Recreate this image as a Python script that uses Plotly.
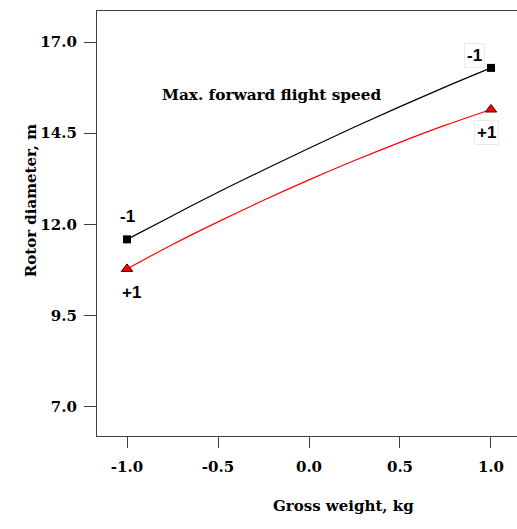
import plotly.graph_objects as go

# Gross weight (coded level) along the response curves
gross_weight = [-1.0, -0.75, -0.5, -0.25, 0.0, 0.25, 0.5, 0.75, 1.0]
# Rotor diameter at max. forward flight speed level -1 and +1
diameter_speed_lo = [11.59, 12.24, 12.88, 13.49, 14.09, 14.67, 15.23, 15.77, 16.29]
diameter_speed_hi = [10.78, 11.45, 12.07, 12.66, 13.22, 13.75, 14.25, 14.72, 15.15]

x_ticks = [-1.0, -0.5, 0.0, 0.5, 1.0]
x_tick_text = ["-1.0", "-0.5", "0.0", "0.5", "1.0"]
y_ticks = [7.0, 9.5, 12.0, 14.5, 17.0]
y_tick_text = ["7.0", "9.5", "12.0", "14.5", "17.0"]

serif = "DejaVu Serif"
sans = "Liberation Sans"
axis_col = "#404040"

fig = go.Figure()

fig.add_trace(go.Scatter(
    x=gross_weight, y=diameter_speed_lo, mode="lines",
    line=dict(color="black", width=1.2, shape="spline"), hoverinfo="skip"))
fig.add_trace(go.Scatter(
    x=gross_weight, y=diameter_speed_hi, mode="lines",
    line=dict(color="red", width=1.2, shape="spline"), hoverinfo="skip"))

# end-point markers
fig.add_trace(go.Scatter(
    x=[gross_weight[0], gross_weight[-1]],
    y=[diameter_speed_lo[0], diameter_speed_lo[-1]],
    mode="markers",
    marker=dict(symbol="square", size=8, color="black")))
fig.add_trace(go.Scatter(
    x=[gross_weight[0], gross_weight[-1]],
    y=[diameter_speed_hi[0], diameter_speed_hi[-1]],
    mode="markers",
    marker=dict(symbol="triangle-up", size=10, color="red",
                line=dict(color="#400000", width=1))))

lab_font = dict(family=sans, size=17, color="black")
fig.add_annotation(x=-1.0, y=12.22, text="<b>-1</b>", showarrow=False, font=lab_font)
fig.add_annotation(x=-0.978, y=10.14, text="<b>+1</b>", showarrow=False, font=lab_font)
fig.add_annotation(x=0.907, y=16.64, text="<b>-1</b>", showarrow=False, font=lab_font,
                   bordercolor="#ebebeb", borderwidth=1, borderpad=2)
fig.add_annotation(x=0.973, y=14.53, text="<b>+1</b>", showarrow=False, font=lab_font,
                   bordercolor="#ebebeb", borderwidth=1, borderpad=2)

fig.add_annotation(x=-0.206, y=15.55, text="<b>Max. forward flight speed</b>",
                   showarrow=False, font=dict(family=serif, size=15.3, color="black"))

# axis titles
fig.add_annotation(xref="paper", yref="paper", x=0.586, y=-0.19,
                   text="<b>Gross weight, kg</b>", showarrow=False,
                   font=dict(family=serif, size=15, color="black"))
fig.add_annotation(xref="paper", yref="paper", x=-0.183, y=0.555,
                   text="<b>Rotor diameter, m</b>", showarrow=False, textangle=-90,
                   font=dict(family=serif, size=15, color="black"))

tick_font = dict(family=serif, size=15, color="black")
fig.update_xaxes(
    range=[-1.165, 1.143], tickvals=x_ticks,
    ticktext=[f"<b>{t}</b>" for t in x_tick_text],
    showgrid=False, zeroline=False, showline=True, linecolor=axis_col, linewidth=1.2,
    mirror=True, ticks="outside", ticklen=11, tickcolor=axis_col, tickwidth=1.2,
    tickfont=tick_font, ticklabelstandoff=6)
fig.update_yaxes(
    range=[6.2, 17.85], tickvals=y_ticks,
    ticktext=[f"<b>{t}</b>" for t in y_tick_text],
    showgrid=False, zeroline=False, showline=True, linecolor=axis_col, linewidth=1.2,
    ticks="outside", ticklen=12, tickcolor=axis_col, tickwidth=1.2,
    tickfont=tick_font, ticklabelstandoff=4)

fig.update_layout(
    width=517, height=529,
    margin=dict(l=97, r=0, t=11, b=93),
    plot_bgcolor="white", paper_bgcolor="white",
    showlegend=False,
)

fig.write_html("out.html")
